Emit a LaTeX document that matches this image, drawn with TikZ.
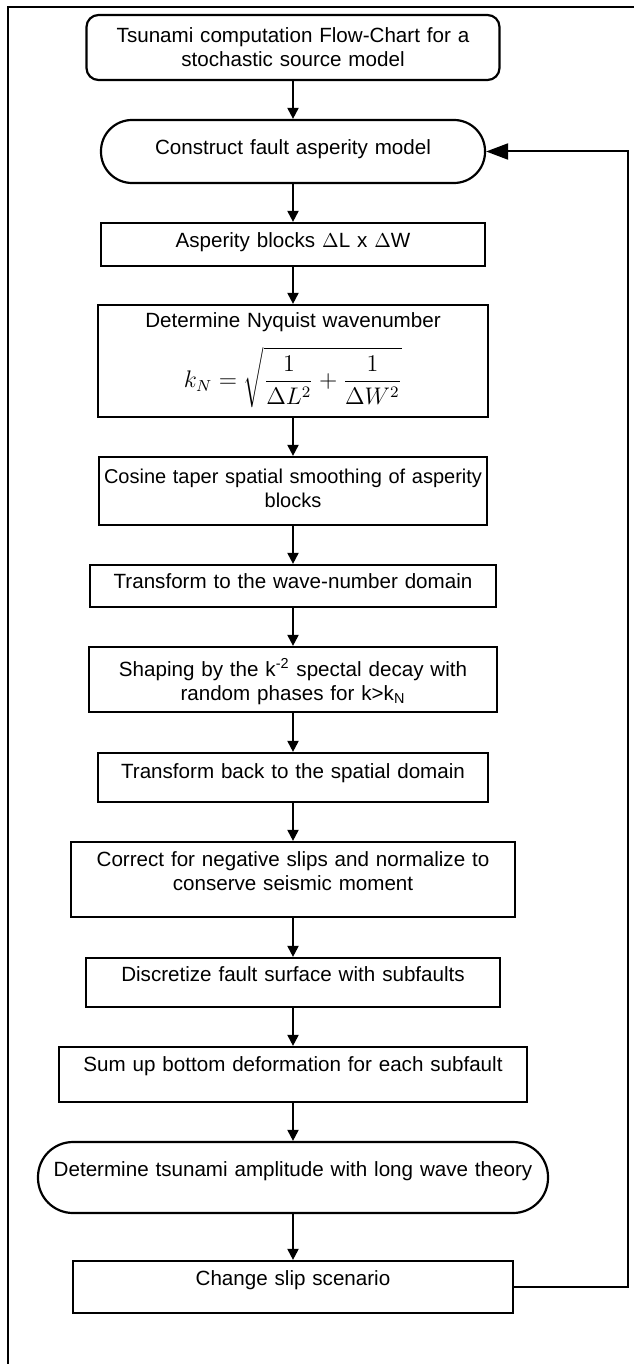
\documentclass[tikz,border=0pt]{standalone}
\usepackage{fontspec}
\setmainfont{Liberation Sans}
\usetikzlibrary{arrows.meta}

\begin{document}
\begin{tikzpicture}[x=0.5pt, y=-0.5pt, >={Triangle[length=5.5pt,width=5.5pt]},
    box/.style={draw, line width=1.1pt, inner sep=0pt, align=center, font=\fontsize{10.3}{12}\selectfont},
    term/.style={box, rounded corners=15.5pt},
    flow/.style={->, line width=1pt}]
    \useasboundingbox (0,0) rectangle (634,1364);
    % outer frame
    \draw[line width=1.2pt] (8,1364) |- (634,7);

    % flow chart
    \node[box, rounded corners=6pt, text width=206.5pt, text height=14pt, text depth=18.5pt] (title) at (293,47.5) {Tsunami computation Flow-Chart for a\\stochastic source model};
    \node[term, text width=192pt, text height=17.5pt, text depth=14pt] (fault) at (293,151.5) {Construct fault asperity model};
    \node[box, text width=192pt, text height=12.5pt, text depth=9pt] (blocks) at (293,244.5) {Asperity blocks $\Delta$L x $\Delta$W};
    \node[box, text width=195pt, text height=11pt, text depth=45pt] (nyq) at (293,361) {Determine Nyquist wavenumber\\[7pt]\mbox{\fontsize{11.5}{13}\selectfont$\displaystyle k_N=\sqrt{\frac{1}{\Delta L^2}+\frac{1}{\Delta W^2}}$}};
    \node[box, font=\fontsize{10}{12}\selectfont, text width=194pt, text height=13pt, text depth=21pt] (taper) at (293,491) {\makebox[\linewidth]{Cosine taper spatial smoothing of asperity}\\blocks};
    \node[box, text width=203pt, text height=11.5pt, text depth=9.5pt] (fwd) at (293,586) {Transform to the wave-number domain};
    \node[box, text width=204pt, text height=14.5pt, text depth=18pt] (shape) at (293,679.5) {Shaping by the k\textsuperscript{-2} spectal decay with\\random phases for k>k\textsubscript{N}};
    \node[box, text width=195pt, text height=12.5pt, text depth=12pt] (inv) at (293,777.5) {Transform back to the spatial domain};
    \node[box, text width=222pt, text height=12pt, text depth=25.5pt] (norm) at (293,879.5) {Correct for negative slips and normalize to\\conserve seismic moment};
    \node[box, text width=207pt, text height=11.5pt, text depth=13pt] (disc) at (293,982.5) {Discretize fault surface with subfaults};
    \node[box, text width=234pt, text height=12pt, text depth=15.5pt] (sum) at (293,1074.5) {Sum up bottom deformation for each subfault};
    \node[term, rounded corners=17.5pt, text width=255pt, text height=17pt, text depth=18.5pt] (amp) at (293,1177.5) {Determine tsunami amplitude with long wave theory};
    \node[box, text width=220pt, text height=12pt, text depth=14pt] (chg) at (293,1287) {Change slip scenario};

    \draw[flow] (title)--(fault); \draw[flow] (fault)--(blocks); \draw[flow] (blocks)--(nyq);
    \draw[flow] (nyq)--(taper); \draw[flow] (taper)--(fwd); \draw[flow] (fwd)--(shape);
    \draw[flow] (shape)--(inv); \draw[flow] (inv)--(norm); \draw[flow] (norm)--(disc);
    \draw[flow] (disc)--(sum); \draw[flow] (sum)--(amp); \draw[flow] (amp)--(chg);

    % loop back
    \coordinate (back) at (628,1287);
    \draw[line width=1pt, -{Triangle[length=11pt,width=8pt]}] (chg.east) -- (back) |- (fault.east);
\end{tikzpicture}
\end{document}
